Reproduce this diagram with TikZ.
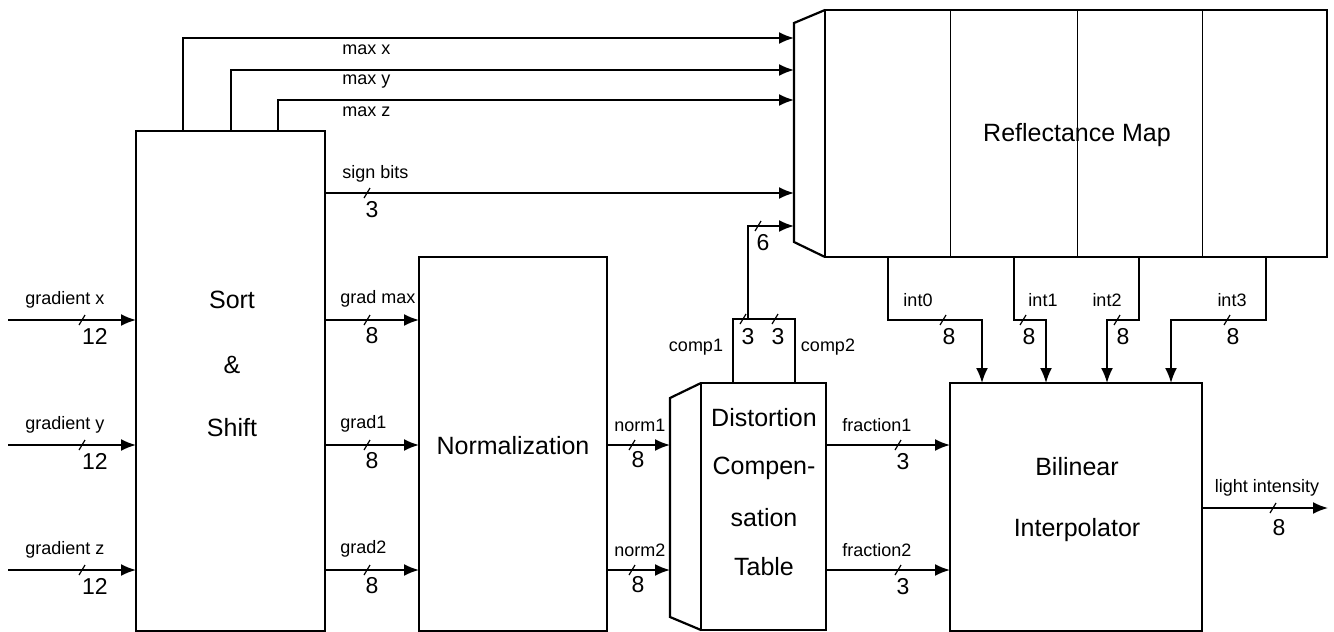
\documentclass[tikz,border=0pt]{standalone}
\usepackage{fontspec}
\setmainfont{Liberation Sans}
\usetikzlibrary{arrows.meta}

\begin{document}
\begin{tikzpicture}[x=0.5pt,y=-0.5pt,every node/.style={font=\fontsize{9}{10}\selectfont,inner sep=0pt},
	blk/.style={draw,line width=1.1pt,outer sep=0pt},
	bus/.style={line width=0.9pt,-{Latex[length=7.5pt,width=6pt]}},
	wire/.style={line width=0.9pt},
	big/.style={font=\fontsize{12.5}{14}\selectfont},
	num/.style={font=\fontsize{11.5}{12}\selectfont},
	busmark/.pic={\draw[line width=0.6pt] (-3,5) -- (3,-5);}]
	\useasboundingbox (0,0) rectangle (1334,632);
	% blocks
	\node[blk, minimum width=94.5pt, minimum height=250pt] (sort) at (230.5,381) {};
	\node[blk, minimum width=94pt, minimum height=187pt] (norm) at (513,444) {};
	\node[blk, minimum width=62.5pt, minimum height=123.5pt] (dct) at (763.5,506.5) {};
	\node[blk, minimum width=251pt, minimum height=123.5pt] (rm) at (1076,133.5) {};
	\node[blk, minimum width=126pt, minimum height=124pt] (bil) at (1076,507) {};
	\draw[line width=1.1pt] (rm.north west) -- (794,23) -- (794,242) -- (rm.south west);
	\draw[line width=1.1pt] (dct.north west) -- (670,398) -- (670,617) -- (dct.south west);
	\foreach \x in {950,1077,1202} {\draw[line width=0.5pt] (\x,10) -- (\x,257);}
	\coordinate (rmw) at (794,133); \coordinate (dctw) at (670,507);
	% block texts
	\node[big] (t1) at (232,300) {Sort}; \node[big] (t2) at (232,365) {\&}; \node[big] (t3) at (232,428) {Shift};
	\node[big] (t4) at (513,446) {Normalization};
	\node[big] (t5) at (764,418) {Distortion}; \node[big] (t6) at (764,468) {Compen-};
	\node[big] (t7) at (764,518) {sation}; \node[big] (t8) at (764,567) {Table};
	\node[big] (t9) at (1077,135) {Reflectance Map};
	\node[big] (t10) at (1077,467) {Bilinear}; \node[big] (t11) at (1077,530) {Interpolator};
	% inputs, sort -> normalization
	\foreach \y/\n/\a in {320/x/grad max,445/y/grad1,570/z/grad2} {
		\coordinate (g\n) at (8,\y);
		\draw[bus] (g\n) -- (g\n -| sort.west);
		\node[anchor=west] (lg\n) at (25,\y-20) {gradient \n};
		\pic at (82,\y) {busmark}; \node[num] (ng\n) at (95,\y+16) {12};
		\draw[bus] (sort.east |- g\n) -- (norm.west |- g\n);
		\node[anchor=west] (ls\n) at (340,\y-21) {\a};
		\pic at (367,\y) {busmark}; \node[num] (ns\n) at (372,\y+16) {8};
	}
	% normalization -> table -> interpolator
	\foreach \y/\n/\a/\b in {445/y/norm1/fraction1,570/z/norm2/fraction2} {
		\draw[bus] (norm.east |- g\n) -- (dctw |- g\n);
		\node[anchor=west] (ln\n) at (614,\y-20) {\a};
		\pic at (632,\y) {busmark}; \node[num] (nn\n) at (638,\y+15) {8};
		\draw[bus] (dct.east |- g\n) -- (bil.west |- g\n);
		\node[anchor=west] (lf\n) at (842,\y-20) {\b};
		\pic at (898,\y) {busmark}; \node[num] (nf\n) at (903,\y+17) {3};
	}
	% sort -> reflectance map
	\foreach \x/\y/\n in {183/38/x,231/70/y,278/100/z} {
		\coordinate (m\n) at (\x,\y);
		\draw[bus] (m\n |- sort.north) -- (m\n) -- (m\n -| rmw);
		\node[anchor=west] (lm\n) at (342,\y+12) {max \n};
	}
	\coordinate (sb) at (794,193);
	\draw[bus] (sb -| sort.east) -- (sb);
	\node[anchor=west] (lsb) at (342,174) {sign bits};
	\pic at (367,193) {busmark}; \node[num] (nsb) at (372,210) {3};
	% comp buses
	\coordinate (c1) at (733,319); \coordinate (c2) at (795,319); \coordinate (c6) at (748,226);
	\draw[wire] (c1 |- dct.north) -- (c1) -- (c2) -- (c2 |- dct.north);
	\draw[bus] (c6 |- c1) -- (c6) -- (c6 -| rmw);
	\pic at (743,319) {busmark}; \node[num] (nc1) at (748,337) {3};
	\pic at (775,319) {busmark}; \node[num] (nc2) at (778,337) {3};
	\pic at (758,226) {busmark}; \node[num] (nc6) at (763,243) {6};
	\node (lc1) at (696,347) {comp1}; \node (lc2) at (828,347) {comp2};
	% reflectance map -> interpolator
	\foreach \a/\b/\k/\l/\s in {888/982/0/918/943,1014/1046/1/1043/1023,1139/1107/2/1107/1117,1266/1171/3/1232/1227} {
		\coordinate (p\k) at (\a,320); \coordinate (q\k) at (\b,320);
		\draw[bus] (p\k |- rm.south) -- (p\k) -- (q\k) -- (q\k |- bil.north);
		\node (li\k) at (\l,300) {int\k};
		\pic at (\s,320) {busmark}; \node[num] (ni\k) at (\s+6,337) {8};
	}
	% output
	\coordinate (out) at (1328,508);
	\draw[bus] (bil.east |- out) -- (out);
	\node (lout) at (1267,488) {light intensity};
	\pic at (1273,508) {busmark}; \node[num] (nout) at (1279,528) {8};
\end{tikzpicture}
\end{document}
